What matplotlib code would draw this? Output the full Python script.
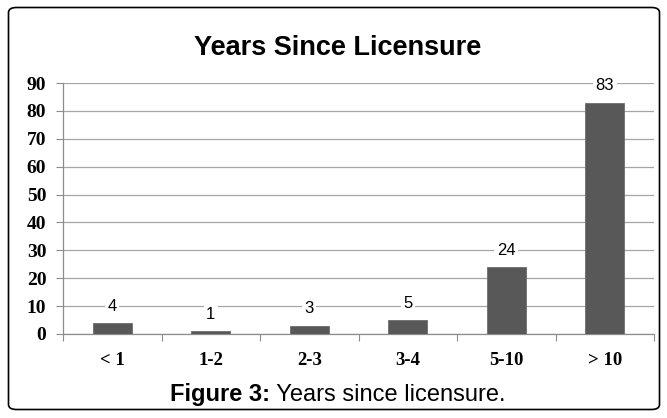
import matplotlib
matplotlib.use("Agg")
import matplotlib.pyplot as plt
from matplotlib.patches import FancyBboxPatch

categories = ["< 1", "1-2", "2-3", "3-4", "5-10", "> 10"]
values = [4, 1, 3, 5, 24, 83]
yticks = [0, 10, 20, 30, 40, 50, 60, 70, 80, 90]

W, H = 667, 418
fig = plt.figure(figsize=(W / 100, H / 100), dpi=100)

# rounded frame around the whole figure
frame = FancyBboxPatch((8.5 / W, 8.5 / H), 651 / W, 402 / H,
                       boxstyle="round,pad=0,rounding_size=0.012",
                       transform=fig.transFigure, fill=False,
                       edgecolor="black", linewidth=1.2)
fig.patches.append(frame)

ax = fig.add_axes([63 / W, (H - 334) / H, 591 / W, 251 / H])
x = range(len(categories))
ax.bar(x, values, width=0.4, color="#585858", edgecolor="#6e6e6e",
       linewidth=0.6, zorder=3)

ax.set_xlim(-0.5, len(categories) - 0.5)
ax.set_ylim(0, 90)
ax.set_yticks(yticks)
ax.set_yticklabels([str(t) for t in yticks], family="Liberation Serif",
                   fontweight="bold", fontsize=14)
ax.set_xticks(list(x))
ax.set_xticklabels(categories, family="Liberation Serif",
                   fontweight="bold", fontsize=13.5)
ax.tick_params(axis="x", length=0, pad=13)
ax.tick_params(axis="y", length=5, width=0.8, color="#8c8c8c", pad=7)
# category boundary ticks on the x axis
ax.set_xticks([i - 0.5 for i in range(len(categories) + 1)], minor=True)
ax.tick_params(axis="x", which="minor", length=5, width=0.8, color="#8c8c8c")

ax.grid(axis="y", color="#a6a6a6", linewidth=0.9, zorder=0)
for side in ["top", "right"]:
    ax.spines[side].set_visible(False)
for side in ["left", "bottom"]:
    ax.spines[side].set_color("#8c8c8c")
    ax.spines[side].set_linewidth(0.9)

for xi, v in zip(x, values):
    ax.annotate(str(v), (xi, v), xytext=(0, 12), textcoords="offset points",
                ha="center", va="center", fontsize=12,
                family="Liberation Sans",
                bbox=dict(boxstyle="square,pad=0.15", fc="white", ec="none"),
                zorder=4)

fig.text(338 / W, (H - 48) / H, "Years Since Licensure", ha="center",
         va="center", family="Liberation Sans", fontweight="bold",
         fontsize=19.5)

# caption with bold lead-in
fig.canvas.draw()
renderer = fig.canvas.get_renderer()
cap_y = (H - 395) / H
t1 = fig.text(0, cap_y, "Figure 3:", family="Liberation Sans",
              fontweight="bold", fontsize=17, va="center", ha="left")
t2 = fig.text(0, cap_y, " Years since licensure.",
              family="Liberation Sans", fontsize=17, va="center", ha="left")
w1 = t1.get_window_extent(renderer).width
w2 = t2.get_window_extent(renderer).width
start = 338 - (w1 + w2) / 2
t1.set_x(start / W)
t2.set_x((start + w1) / W)

fig.savefig("out.png", dpi=100)
